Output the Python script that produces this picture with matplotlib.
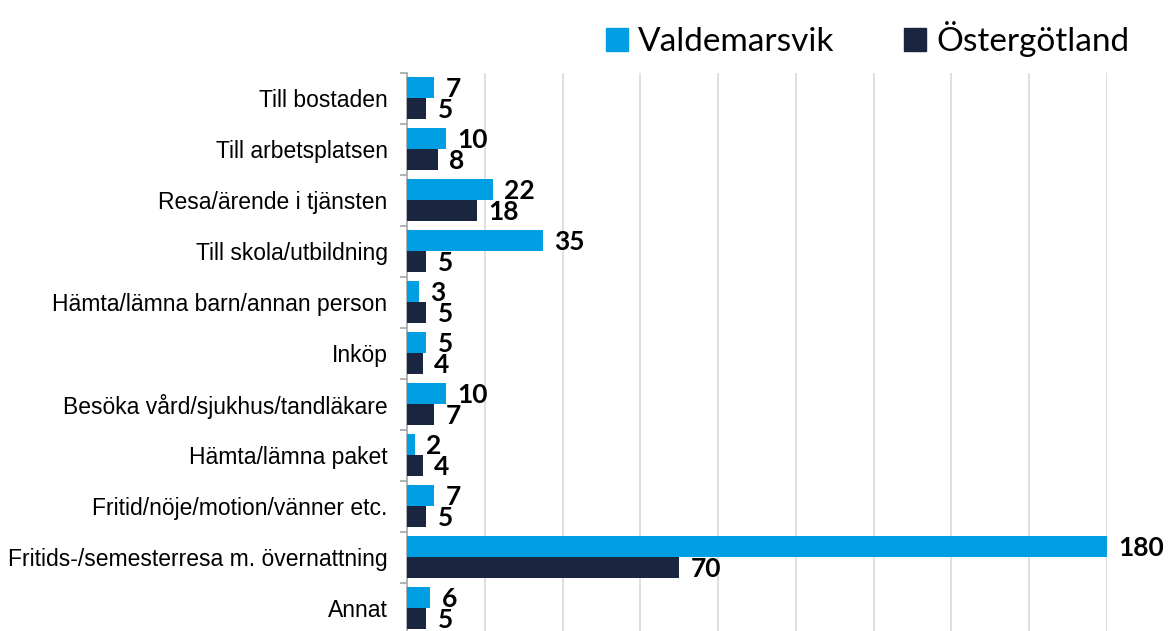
import numpy as np
import matplotlib
matplotlib.use("Agg")
import matplotlib.pyplot as plt
from matplotlib.patches import Patch

# data
kategorier = ["Till bostaden", "Till arbetsplatsen", "Resa/ärende i tjänsten",
              "Till skola/utbildning", "Hämta/lämna barn/annan person", "Inköp",
              "Besöka vård/sjukhus/tandläkare", "Hämta/lämna paket",
              "Fritid/nöje/motion/vänner etc.",
              "Fritids-/semesterresa m. övernattning", "Annat"]
valdemarsvik = [7, 10, 22, 35, 3, 5, 10, 2, 7, 180, 6]
ostergotland = [5, 8, 18, 5, 5, 4, 7, 4, 5, 70, 5]
serier = ["Valdemarsvik", "Östergötland"]

c_ljus = "#009FE3"
c_mork = "#1A2540"

fig = plt.figure(figsize=(11.71, 6.31), dpi=100)
ax = fig.add_axes([0.3476, -0.004, 0.5977, 0.889])

y = np.arange(len(kategorier))
h = 0.41
b1 = ax.barh(y - h / 2, valdemarsvik, height=h, color=c_ljus, zorder=3)
b2 = ax.barh(y + h / 2, ostergotland, height=h, color=c_mork, zorder=3)

for bars, vals in ((b1, valdemarsvik), (b2, ostergotland)):
    for r, v in zip(bars, vals):
        ax.annotate(str(v), (r.get_width(), r.get_y() + r.get_height() / 2),
                    xytext=(8, -1), textcoords="offset points", ha="left", va="center",
                    fontsize=19, fontweight="bold", family="Lato", color="black",
                    annotation_clip=False)

ax.set_xlim(0, 180)
ax.set_ylim(len(kategorier) - 0.5, -0.5)
ax.set_xticks(np.arange(20, 181, 20))
ax.tick_params(axis="x", length=0, labelbottom=False)
ax.grid(axis="x", color="#D9D9D9", lw=1.2, zorder=0)

ax.set_yticks(y)
ax.set_yticklabels(kategorier, family="Liberation Sans", fontsize=16.5)
ax.tick_params(axis="y", which="major", length=0, pad=14)
ax.set_yticks(np.arange(-0.5, len(kategorier), 1), minor=True)
ax.tick_params(axis="y", which="minor", length=5, color="#A6A6A6", width=1.2)

for s in ["top", "right", "bottom"]:
    ax.spines[s].set_visible(False)
ax.spines["left"].set_color("#A6A6A6")
ax.spines["left"].set_linewidth(1.2)

handles = [Patch(color=c_ljus), Patch(color=c_mork)]
fig.legend(handles, serier, loc="upper right", bbox_to_anchor=(0.99, 1.014),
           ncol=2, frameon=False, prop={"family": "Lato", "size": 24},
           handlelength=0.65, handleheight=0.65, handletextpad=0.3, columnspacing=2.1)

plt.savefig("out.png", dpi=100)
